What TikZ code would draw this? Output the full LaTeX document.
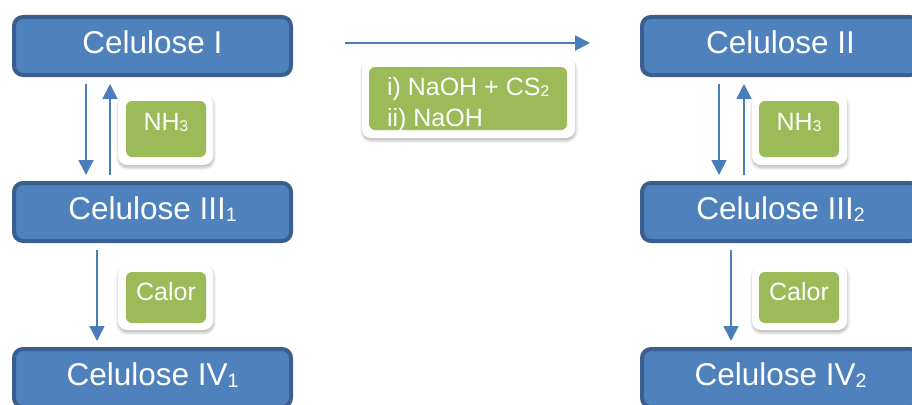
\documentclass[tikz,border=0pt]{standalone}
\usepackage{graphicx}
\usepackage{fontspec}
\setmainfont{Liberation Sans}
\usetikzlibrary{arrows.meta,shadows.blur}
\definecolor{boxfill}{HTML}{4F81BD}
\definecolor{boxline}{HTML}{3A5F8E}
\definecolor{reagent}{HTML}{9BBB59}
\definecolor{arrowc}{HTML}{4A7EBB}
% small index set just below the baseline
\newcommand{\lowidx}[1]{\raisebox{-0.07em}{\scalebox{0.62}{#1}}}

\begin{document}
\begin{tikzpicture}[x=1pt,y=-1pt,
  form/.style={draw=boxline, fill=boxfill, line width=4pt, rounded corners=9pt,
    minimum width=277pt, minimum height=58pt, inner sep=0pt},
  formtext/.style={text=white, font=\fontsize{31.5}{36}\selectfont, anchor=base, inner sep=0pt},
  card/.style={fill=white, rounded corners=9pt, inner sep=0pt,
    blur shadow={shadow xshift=0.5pt, shadow yshift=-2.5pt, shadow blur steps=6,
      shadow opacity=30, shadow blur radius=3pt}},
  pad/.style={fill=reagent, rounded corners=6pt, inner sep=0pt},
  padtext/.style={text=white, font=\fontsize{25}{31}\selectfont, inner sep=0pt},
  arr/.style={draw=arrowc, line width=1.7pt, -{Triangle[length=15pt,width=15pt]}}
]
\useasboundingbox (0,0) rectangle (912,404);
\clip (0,0) rectangle (912,404);

% cellulose polymorphs
\node[form] (I)    at (152.5,46)  {};
\node[form] (III1) at (152.5,212) {};
\node[form] (IV1)  at (152.5,378) {};
\node[form] (II)   at (780.5,46)  {};
\node[form] (III2) at (780.5,212) {};
\node[form] (IV2)  at (780.5,378) {};

\node[formtext] at ([yshift=-7pt]I.center)    {Celulose I};
\node[formtext] at ([yshift=-7pt]III1.center) {Celulose III\lowidx{1}};
\node[formtext] at ([yshift=-7pt]IV1.center)  {Celulose IV\lowidx{1}};
\node[formtext] at ([yshift=-7pt]II.center)   {Celulose II};
\node[formtext] at ([yshift=-7pt]III2.center) {Celulose III\lowidx{2}};
\node[formtext] at ([yshift=-7pt]IV2.center)  {Celulose IV\lowidx{2}};

% conversions
\draw[arr, shorten <=7pt, shorten >=6pt] ([xshift=-66.5pt]I.south) -- ([xshift=-66.5pt]III1.north);
\draw[arr, shorten <=6pt, shorten >=7pt] ([xshift=-42.5pt]III1.north) -- ([xshift=-42.5pt]I.south);
\draw[arr, shorten <=7pt, shorten >=6pt] ([xshift=-55.5pt]III1.south) -- ([xshift=-55.5pt]IV1.north);

\draw[arr, shorten <=7pt, shorten >=6pt] ([xshift=-61.5pt]II.south) -- ([xshift=-61.5pt]III2.north);
\draw[arr, shorten <=6pt, shorten >=7pt] ([xshift=-36.5pt]III2.north) -- ([xshift=-36.5pt]II.south);
\draw[arr, shorten <=7pt, shorten >=6pt] ([xshift=-49.5pt]III2.south) -- ([xshift=-49.5pt]IV2.north);

\draw[arr, shorten <=52pt, shorten >=50pt] ([yshift=3pt]I.east) -- ([yshift=3pt]II.west);

% reagent labels
\node[card, minimum width=95pt, minimum height=70pt] (cA) at (165.5,130) {};
\node[pad, minimum width=80pt, minimum height=56pt] (pA) at (166,129) {};
\node[padtext, anchor=base] at ([yshift=-1pt]pA.center) {NH\lowidx{3}};

\node[card, minimum width=95pt, minimum height=65pt] (cB) at (165.5,297.5) {};
\node[pad, minimum width=80pt, minimum height=51pt] (pB) at (166,297.5) {};
\node[padtext, anchor=base] at ([yshift=-2.5pt]pB.center) {Calor};

\node[card, minimum width=95pt, minimum height=70pt] (cC) at (799.5,130) {};
\node[pad, minimum width=80pt, minimum height=56pt] (pC) at (799,129) {};
\node[padtext, anchor=base] at ([yshift=-1pt]pC.center) {NH\lowidx{3}};

\node[card, minimum width=95pt, minimum height=65pt] (cD) at (799.5,297.5) {};
\node[pad, minimum width=80pt, minimum height=51pt] (pD) at (799,297.5) {};
\node[padtext, anchor=base] at ([yshift=-2.5pt]pD.center) {Calor};

\node[card, minimum width=213pt, minimum height=80pt] (cE) at (468.5,98) {};
\node[pad, minimum width=198pt, minimum height=63pt] (pE) at (468,98.5) {};
\begin{scope}
  \clip[rounded corners=6pt] (pE.south west) rectangle (pE.north east);
  \node[padtext, anchor=base west] at ([xshift=18pt,yshift=3.5pt]pE.west) {i) NaOH + CS\lowidx{2}};
  \node[padtext, anchor=base west] at ([xshift=18pt,yshift=-27.5pt]pE.west) {ii) NaOH};
\end{scope}
\end{tikzpicture}
\end{document}
